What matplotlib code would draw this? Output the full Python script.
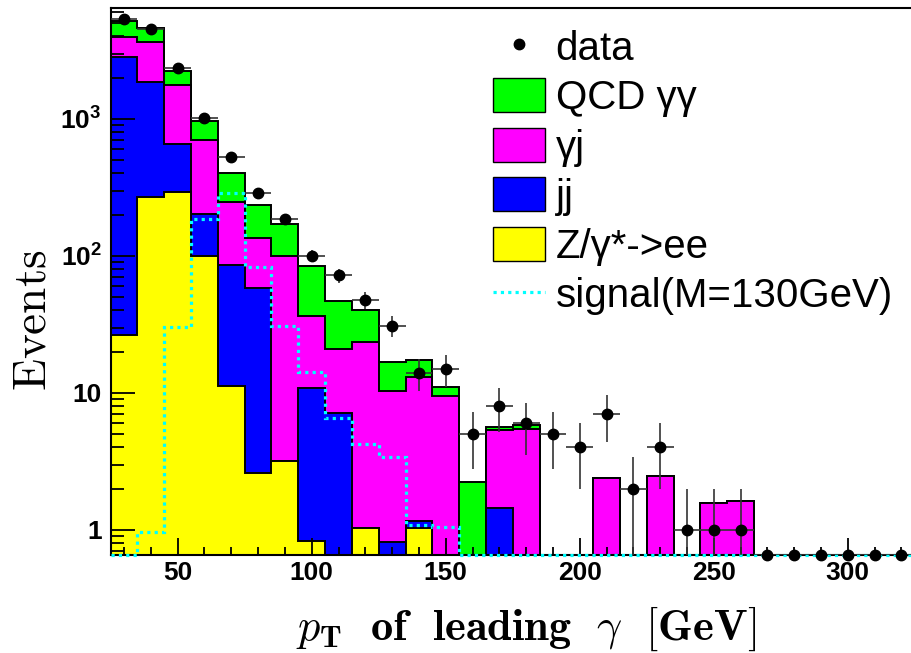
import numpy as np
import matplotlib
matplotlib.use("Agg")
import matplotlib.pyplot as plt
from matplotlib.patches import Patch
from matplotlib.lines import Line2D
from matplotlib.ticker import (FixedLocator, FixedFormatter, MultipleLocator,
                               LogLocator, NullFormatter)

plt.rcParams["font.family"] = ["Liberation Sans", "DejaVu Sans"]
plt.rcParams["font.weight"] = "bold"
plt.rcParams["mathtext.fontset"] = "cm"
# used only by the y tick labels (math_fontfamily="custom")
plt.rcParams["mathtext.bf"] = "Liberation Sans:bold"
plt.rcParams["mathtext.rm"] = "Liberation Sans:bold"

# 10 GeV bins from 25 to 325 GeV
bin_edges = np.arange(25, 326, 10)
bin_centers = bin_edges[:-1] + 5

data = [5350, 4500, 2370, 1020, 530, 287, 186, 100, 72, 48, 31, 14, 15, 5, 8,
        6, 5, 4, 7, 2, 4, 1, 1, 1, 0, 0, 0, 0, 0, 0]

# backgrounds, stacked bottom to top
zee = [26.6, 268, 293, 100, 11.2, 2.6, 3.2, 0.83, 0, 1.04, 0, 1.04, 0, 0, 0,
       0, 0, 0, 0, 0, 0, 0, 0, 0, 0, 0, 0, 0, 0, 0]
jj = [2823, 1582, 364, 101, 75, 56, 0, 10.0, 7.1, 0, 0.82, 0.13, 0, 0, 1.45,
      0, 0, 0, 0, 0, 0, 0, 0, 0, 0, 0, 0, 0, 0, 0]
gamma_j = [1100, 1780, 1114, 502, 161, 76, 97, 25.7, 13.8, 22.4, 9.5, 12.0,
           9.55, 0, 3.9, 5.5, 0, 0, 2.41, 0, 2.49, 0, 1.58, 1.62, 0, 0, 0, 0, 0, 0]
qcd_gg = [1240, 960, 484, 269, 154, 102, 71, 48.5, 26.3, 17.1, 6.6, 4.1, 1.45,
          2.25, 0.31, 0.29, 0, 0, 0, 0, 0, 0, 0, 0, 0, 0, 0, 0, 0, 0]

signal = [0, 0.96, 30.5, 185, 287, 83.5, 30.8, 14.3, 6.6, 4.24, 3.43, 1.09,
          1.05, 0, 0, 0, 0, 0, 0, 0, 0, 0, 0, 0, 0, 0, 0, 0, 0, 0]

labels = ["data", "QCD γγ", "γj", "jj", "Z/γ*->ee", "signal(M=130GeV)"]
colors = ["#00ff00", "#ff00ff", "#0000ff", "#ffff00"]  # qcd, gj, jj, zee
ytick_vals = [1, 10, 100, 1000]
ytick_text = ["1", "10", r"$\mathbf{10^{2}}$", r"$\mathbf{10^{3}}$"]

ymin, ymax = 0.657, 6450
floor = 1e-3

fig = plt.figure(figsize=(9.11, 6.53), dpi=100)
ax = fig.add_axes([0.1215, 0.1501, 0.8826, 0.8377])
ax.set_yscale("log")

levels = np.cumsum([zee, jj, gamma_j, qcd_gg], axis=0)
for lvl, col in zip(levels[::-1], colors):
    ax.stairs(np.maximum(lvl, floor), bin_edges, baseline=floor, fill=True,
              facecolor=col, edgecolor="black", linewidth=1.4, zorder=1)

ax.stairs(np.maximum(signal, ymin), bin_edges, baseline=None, color="#00ffff",
          linewidth=2.3, linestyle=(0, (1, 1.3)), clip_on=False, zorder=3)

d = np.array(data, dtype=float)
err_hi = np.sqrt(d)
err_lo = np.clip(np.minimum(np.sqrt(d), d - floor), 0, None)
y_pts = np.where(d > 0, d, ymin)
ax.errorbar(bin_centers, y_pts, yerr=[err_lo, err_hi], xerr=5, fmt="none",
            ecolor="#333333", elinewidth=1.2, capsize=0, zorder=4)
ax.plot(bin_centers, y_pts, "o", color="black", markersize=7.5,
        clip_on=False, zorder=5)

ax.set_xlim(25, 325)
ax.set_ylim(ymin, ymax)
ax.xaxis.set_major_locator(MultipleLocator(50))
ax.xaxis.set_minor_locator(MultipleLocator(10))
ax.yaxis.set_major_locator(FixedLocator(ytick_vals))
ax.yaxis.set_major_formatter(FixedFormatter(ytick_text))
ax.yaxis.set_minor_locator(LogLocator(base=10, subs=np.arange(2, 10), numticks=20))
ax.yaxis.set_minor_formatter(NullFormatter())

ax.tick_params(axis="both", which="both", direction="in", top=False,
               right=False, labelsize=19, width=1.3)
ax.tick_params(axis="y", which="major", length=17, pad=6.5)
ax.tick_params(axis="y", which="minor", length=9)
ax.tick_params(axis="x", which="major", length=12, pad=4.5)
ax.tick_params(axis="x", which="minor", length=6)
plt.setp(ax.get_yticklabels(), math_fontfamily="custom")
for sp in ax.spines.values():
    sp.set_linewidth(1.5)

ax.set_ylabel(r"$\mathrm{Events}$", fontsize=34)
ax.yaxis.set_label_coords(-0.069, 0.43)
ax.set_xlabel(r"$p_{\mathbf{T}}\ \ \mathbf{of}\ \ \mathbf{leading}\ \ \gamma"
              r"\ \ \mathbf{[GeV]}$", fontsize=32)
ax.xaxis.set_label_coords(0.517, -0.091)

handles = [Line2D([], [], ls="none", marker="o", color="black", markersize=7.5)]
handles += [Patch(facecolor=c, edgecolor="black", linewidth=1) for c in colors]
handles.append(Line2D([], [], color="#00ffff", lw=2.3, ls=(0, (1, 1.3))))
fig.legend(handles, labels, loc="upper left", bbox_to_anchor=(0.541, 0.956),
           frameon=False, prop={"family": "Liberation Sans", "weight": "normal",
                                "size": 29},
           handlelength=1.29, handleheight=0.92, handletextpad=0.27,
           labelspacing=0.265, borderpad=0, borderaxespad=0)

fig.savefig("out.png", dpi=100)
